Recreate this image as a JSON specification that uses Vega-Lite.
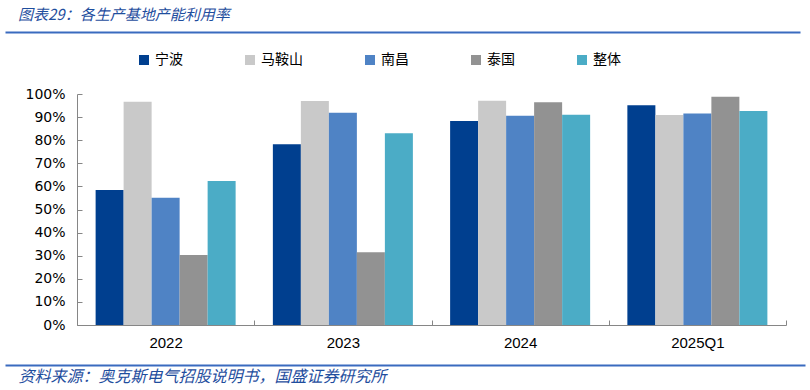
{
  "$schema": "https://vega.github.io/schema/vega-lite/v6.json",
  "autosize": {"type": "none"},
  "width": 709,
  "height": 231,
  "padding": {"left": 77, "top": 94, "right": 24, "bottom": 65},
  "background": "white",
  "title": {
    "text": "图表29：各生产基地产能利用率",
    "anchor": "start",
    "frame": "group",
    "dx": -59,
    "offset": 9,
    "font": "Noto Sans CJK SC",
    "fontSize": 15,
    "fontStyle": "italic",
    "fontWeight": "normal",
    "color": "#1F4E9E"
  },
  "data": {
    "values": [
      {"year": "2022", "base": "宁波", "value": 0.584},
      {"year": "2022", "base": "马鞍山", "value": 0.966},
      {"year": "2022", "base": "南昌", "value": 0.551},
      {"year": "2022", "base": "泰国", "value": 0.303},
      {"year": "2022", "base": "整体", "value": 0.623},
      {"year": "2023", "base": "宁波", "value": 0.782},
      {"year": "2023", "base": "马鞍山", "value": 0.970},
      {"year": "2023", "base": "南昌", "value": 0.919},
      {"year": "2023", "base": "泰国", "value": 0.315},
      {"year": "2023", "base": "整体", "value": 0.830},
      {"year": "2024", "base": "宁波", "value": 0.883},
      {"year": "2024", "base": "马鞍山", "value": 0.971},
      {"year": "2024", "base": "南昌", "value": 0.906},
      {"year": "2024", "base": "泰国", "value": 0.964},
      {"year": "2024", "base": "整体", "value": 0.910},
      {"year": "2025Q1", "base": "宁波", "value": 0.951},
      {"year": "2025Q1", "base": "马鞍山", "value": 0.909},
      {"year": "2025Q1", "base": "南昌", "value": 0.916},
      {"year": "2025Q1", "base": "泰国", "value": 0.988},
      {"year": "2025Q1", "base": "整体", "value": 0.926}
    ]
  },
  "layer": [
    {
      "mark": {"type": "bar"},
      "encoding": {
        "x": {
          "field": "year",
          "type": "nominal",
          "sort": null,
          "scale": {"paddingInner": 0, "paddingOuter": 0},
          "axis": {
            "title": "资料来源：奥克斯电气招股说明书，国盛证券研究所",
            "titleAnchor": "start",
            "titleAlign": "left",
            "titleBaseline": "alphabetic",
            "titleX": -59,
            "titleY": 56,
            "titleFont": "Noto Sans CJK SC",
            "titleFontSize": 16,
            "titleFontStyle": "italic",
            "titleFontWeight": "normal",
            "titleColor": "#1F4E9E",
            "labelAngle": 0,
            "labelFont": "Liberation Sans",
            "labelFontSize": 15,
            "labelColor": "#000000",
            "labelPadding": 15,
            "tickBand": "extent",
            "tickSize": -5,
            "tickColor": "#868686",
            "domainColor": "#868686",
            "domainWidth": 1
          }
        },
        "xOffset": {
          "field": "base",
          "type": "nominal",
          "sort": ["宁波", "马鞍山", "南昌", "泰国", "整体"],
          "scale": {"paddingInner": 0, "paddingOuter": 0.665}
        },
        "y": {
          "field": "value",
          "type": "quantitative",
          "scale": {"domain": [0, 1], "nice": false},
          "axis": {
            "title": null,
            "values": [0, 0.1, 0.2, 0.3, 0.4, 0.5, 0.6, 0.7, 0.8, 0.9, 1],
            "format": ".0%",
            "grid": false,
            "labelFont": "DejaVu Sans",
            "labelFontSize": 14,
            "labelColor": "#000000",
            "labelPadding": 17,
            "tickSize": -5,
            "tickColor": "#868686",
            "domainColor": "#868686"
          }
        },
        "color": {
          "field": "base",
          "type": "nominal",
          "sort": ["宁波", "马鞍山", "南昌", "泰国", "整体"],
          "scale": {
            "domain": ["宁波", "马鞍山", "南昌", "泰国", "整体"],
            "range": ["#003F8F", "#C9C9C9", "#4F83C5", "#929292", "#4BACC6"]
          },
          "legend": {
            "title": null,
            "orient": "none",
            "direction": "horizontal",
            "legendX": 60,
            "legendY": -41,
            "padding": 0,
            "symbolType": "square",
            "symbolSize": 100,
            "symbolStrokeWidth": 0,
            "labelFont": "Noto Sans CJK SC",
            "labelFontSize": 14,
            "labelColor": "#000000",
            "labelOffset": 4,
            "columnPadding": 60
          }
        }
      }
    },
    {
      "mark": {"type": "rule", "opacity": 0},
      "encoding": {
        "x": {
          "field": "value",
          "type": "quantitative",
          "scale": {"domain": [0, 1], "range": [-72, 728]},
          "axis": {
            "orient": "bottom",
            "offset": 40,
            "title": null,
            "labels": false,
            "ticks": false,
            "grid": false,
            "domainColor": "#3A6BBF",
            "domainWidth": 2
          }
        }
      }
    },
    {
      "mark": {"type": "rule", "opacity": 0},
      "encoding": {
        "x": {
          "field": "value",
          "type": "quantitative",
          "scale": {"domain": [0, 1], "range": [-72, 723]},
          "axis": {
            "orient": "top",
            "offset": 62,
            "title": null,
            "labels": false,
            "ticks": false,
            "grid": false,
            "domainColor": "#3A6BBF",
            "domainWidth": 2
          }
        }
      }
    }
  ],
  "resolve": {"scale": {"x": "independent"}, "axis": {"x": "independent"}},
  "config": {"view": {"stroke": null}}
}
